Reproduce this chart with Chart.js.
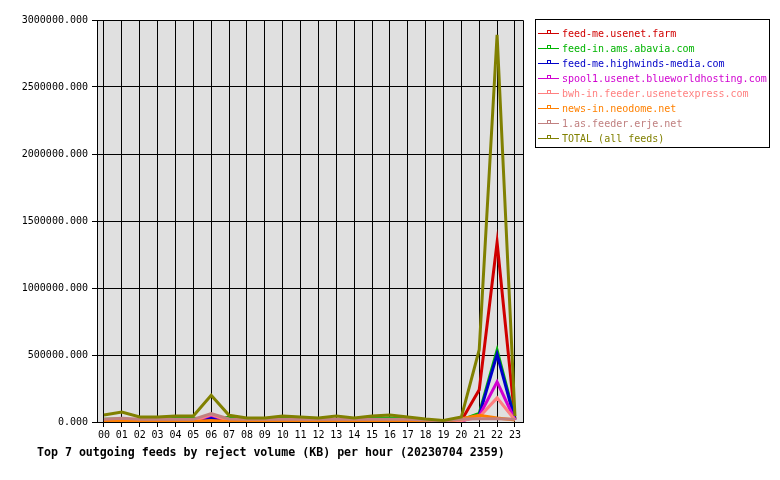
<!DOCTYPE html>
<html>
<head>
<meta charset="UTF-8">
<title>reject volume</title>
<script src="https://cdn.jsdelivr.net/npm/chart.js"></script>
<style>
    body { margin: 0; background: #fff; }
    #wrap { position: relative; width: 780px; height: 480px; }
    #legend {
        position: absolute; left: 535px; top: 19px; width: 235px; height: 129px;
        border: 1px solid #000; box-sizing: border-box;
        font-family: "DejaVu Sans Mono", monospace; font-size: 10px;
    }
    .row { position: absolute; left: 0; height: 15px; line-height: 15px; white-space: nowrap; }
    .swatch { position: absolute; left: 2px; top: 7px; width: 21px; height: 1px; }
    .mark { position: absolute; left: 9px; top: -3px; width: 2px; height: 2px; border: 1px solid; background: #fff; }
    .txt { position: absolute; left: 26px; top: 0; }
    #title {
        position: absolute; left: 37px; top: 445px;
        font-family: "DejaVu Sans Mono", monospace; font-weight: bold; font-size: 11.6px;
        line-height: 14px; color: #000; white-space: nowrap;
    }
</style>
</head>
<body>
<div id="wrap">
    <canvas id="grafico" width="780" height="480"></canvas>
    <div id="legend"></div>
    <div id="title">Top 7 outgoing feeds by reject volume (KB) per hour (20230704 2359)</div>
</div>
<script>
    // horas 00..23
    const horas = [0, 1, 2, 3, 4, 5, 6, 7, 8, 9, 10, 11, 12, 13, 14, 15, 16, 17, 18, 19, 20, 21, 22, 23];
    const yTicks = [0, 500000, 1000000, 1500000, 2000000, 2500000, 3000000];

    const nomes = [
        'feed-me.usenet.farm',
        'feed-in.ams.abavia.com',
        'feed-me.highwinds-media.com',
        'spool1.usenet.blueworldhosting.com',
        'bwh-in.feeder.usenetexpress.com',
        'news-in.neodome.net',
        '1.as.feeder.erje.net',
        'TOTAL (all feeds)'
    ];
    const cores = ['#d00000', '#00b400', '#0000c8', '#d000d0', '#ff8080', '#ff8000', '#c08080', '#808000'];

    const usenetFarm = [3000, 5000, 3000, 3000, 3000, 3000, 20000, 3000, 3000, 3000, 3000, 3000, 3000, 3000, 3000, 3000, 3000, 3000, 2000, 1000, 10000, 240000, 1340000, 20000];
    const abavia = [20000, 22000, 15000, 15000, 28000, 28000, 20000, 35000, 25000, 20000, 30000, 22000, 18000, 18000, 15000, 28000, 30000, 25000, 10000, 3000, 15000, 65000, 535000, 25000];
    const highwinds = [5000, 6000, 4000, 4000, 4000, 4000, 30000, 4000, 4000, 4000, 4000, 4000, 4000, 4000, 4000, 4000, 4000, 4000, 2000, 1000, 8000, 50000, 505000, 15000];
    const blueworld = [8000, 10000, 6000, 6000, 6000, 6000, 50000, 8000, 6000, 6000, 6000, 6000, 6000, 6000, 6000, 6000, 6000, 6000, 3000, 1000, 8000, 45000, 300000, 15000];
    const usenetexpress = [10000, 12000, 8000, 8000, 8000, 8000, 55000, 10000, 8000, 8000, 8000, 8000, 8000, 8000, 8000, 8000, 8000, 8000, 4000, 1000, 10000, 37000, 180000, 15000];
    const neodome = [5000, 9000, 4000, 4000, 4000, 4000, 12000, 4000, 4000, 4000, 4000, 4000, 4000, 4000, 4000, 4000, 4000, 4000, 2000, 1000, 25000, 50000, 30000, 15000];
    const erje = [20000, 28000, 20000, 20000, 20000, 20000, 62000, 22000, 20000, 20000, 20000, 20000, 20000, 20000, 20000, 20000, 20000, 20000, 15000, 8000, 22000, 25000, 25000, 20000];
    const total = [52000, 75000, 37000, 37000, 45000, 45000, 200000, 50000, 30000, 30000, 45000, 37000, 30000, 45000, 30000, 45000, 52000, 37000, 22000, 12000, 37000, 540000, 2890000, 45000];

    const series = [usenetFarm, abavia, highwinds, blueworld, usenetexpress, neodome, erje, total];

    // legenda em html
    const legend = document.getElementById('legend');
    for (let i = 0; i < nomes.length; i++) {
        const row = document.createElement('div');
        row.className = 'row';
        row.style.top = (6 + i * 15) + 'px';
        row.innerHTML = '<span class="swatch" style="background:' + cores[i] + '">' +
            '<span class="mark" style="border-color:' + cores[i] + '"></span></span>' +
            '<span class="txt" style="color:' + cores[i] + '">' + nomes[i] + '</span>';
        legend.appendChild(row);
    }

    const fundoCinza = {
        id: 'fundoCinza',
        beforeDraw(chart) {
            const a = chart.chartArea;
            const ctx = chart.ctx;
            ctx.save();
            ctx.fillStyle = '#e0e0e0';
            ctx.fillRect(a.left, a.top, a.right - a.left, a.bottom - a.top);
            ctx.restore();
        },
        afterDraw(chart) {
            const a = chart.chartArea;
            const ctx = chart.ctx;
            ctx.save();
            ctx.strokeStyle = '#000';
            ctx.lineWidth = 1;
            ctx.beginPath();
            ctx.moveTo(a.left, a.top + 0.5);
            ctx.lineTo(a.right + 0.5, a.top + 0.5);
            ctx.lineTo(a.right + 0.5, a.bottom);
            ctx.stroke();
            ctx.restore();
        }
    };

    const datasets = series.map((s, i) => ({
        label: nomes[i],
        data: horas.map((h, j) => ({ x: h, y: s[j] })),
        borderColor: cores[i],
        backgroundColor: cores[i],
        borderWidth: 3,
        pointRadius: 0,
        tension: 0,
        order: nomes.length - i
    }));

    new Chart(document.getElementById('grafico'), {
        type: 'line',
        data: { datasets: datasets },
        options: {
            responsive: false,
            animation: false,
            devicePixelRatio: 1,
            layout: { padding: { left: 0, top: 20, right: 257, bottom: 30 } },
            plugins: { legend: { display: false }, tooltip: { enabled: false } },
            scales: {
                x: {
                    type: 'linear',
                    min: -0.39,
                    max: 23.45,
                    afterFit: s => { s.height = 28; },
                    afterBuildTicks: s => { s.ticks = horas.map(h => ({ value: h })); },
                    ticks: {
                        includeBounds: false,
                        autoSkip: false,
                        maxRotation: 0,
                        padding: 2,
                        color: '#000',
                        font: { family: 'DejaVu Sans Mono', size: 10 },
                        callback: v => String(v).padStart(2, '0')
                    },
                    grid: { color: '#000', lineWidth: 1, tickLength: 5 },
                    border: { color: '#000' }
                },
                y: {
                    min: 0,
                    max: 3000000,
                    afterFit: s => { s.width = 97; },
                    afterBuildTicks: s => { s.ticks = yTicks.map(v => ({ value: v })); },
                    ticks: {
                        padding: 4,
                        color: '#000',
                        font: { family: 'DejaVu Sans Mono', size: 10 },
                        callback: v => Number(v).toFixed(3)
                    },
                    grid: { color: '#000', lineWidth: 1, tickLength: 5 },
                    border: { color: '#000' }
                }
            }
        },
        plugins: [fundoCinza]
    });
</script>
</body>
</html>
